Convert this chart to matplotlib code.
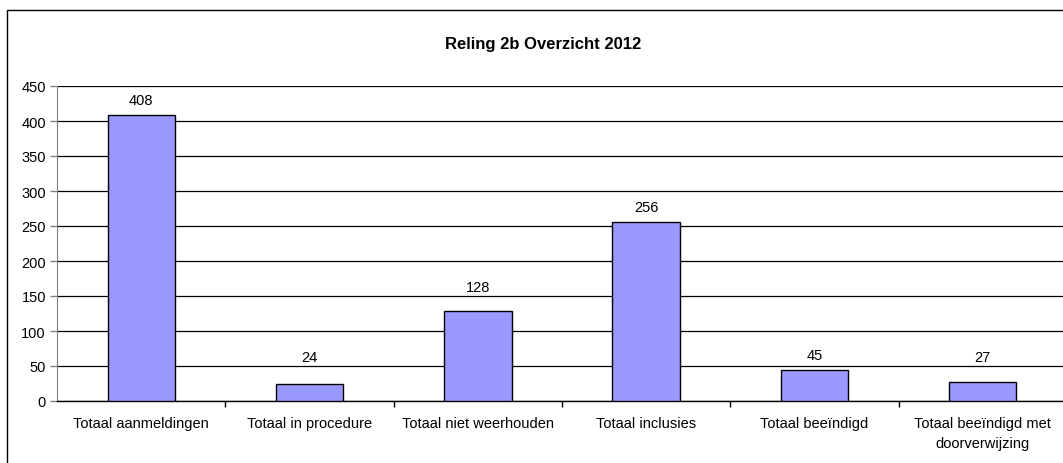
import matplotlib.pyplot as plt
from matplotlib.patches import Rectangle
import numpy as np

plt.rcParams['font.family'] = ['Liberation Sans', 'DejaVu Sans']

categories = ['Totaal aanmeldingen', 'Totaal in procedure', 'Totaal niet weerhouden',
              'Totaal inclusies', 'Totaal beeïndigd', 'Totaal beeïndigd met\ndoorverwijzing']
values = [408, 24, 128, 256, 45, 27]
yticks = [0, 50, 100, 150, 200, 250, 300, 350, 400, 450]

W, H = 1063, 464
fig = plt.figure(figsize=(W / 100, H / 100), dpi=100)

# chart frame (runs off the right and bottom edge)
fig.patches.append(Rectangle((7 / W, -0.05), 1.1, 1 - 11 / H + 0.05, transform=fig.transFigure,
                             fill=False, edgecolor='black', linewidth=1.0))

ax = fig.add_axes([57 / W, 62 / H, 1010 / W, 315 / H])
x = np.arange(len(categories))
ax.bar(x, values, width=0.4, color='#9999FF', edgecolor='black', linewidth=1.0, zorder=3)

# value labels sit above the bar, bumped over a gridline when they would touch it
for xi, v in zip(x, values):
    y = v + 21.4
    for g in yticks:
        if abs(y - g) < 9:
            y = g + 12.9
    ax.text(xi, y, str(v), ha='center', va='center', fontsize=10.5)

ax.set_xlim(-0.5, len(categories) - 0.5)
ax.set_ylim(0, 450)
ax.set_yticks(yticks)
ax.set_xticks(x)
ax.set_xticklabels(categories, fontsize=10.5, linespacing=1.55)
ax.set_xticks(np.arange(len(categories)) + 0.5, minor=True)
ax.tick_params(axis='x', which='major', length=0, pad=11)
ax.tick_params(axis='x', which='minor', length=4, width=1, color='black', direction='out')
ax.tick_params(axis='y', labelsize=10.5, length=5, width=1, color='#808080', pad=3)
ax.yaxis.grid(True, color='black', linewidth=0.9, zorder=0)

for s in ['top', 'right']:
    ax.spines[s].set_visible(False)
ax.spines['left'].set_color('#808080')
ax.spines['bottom'].set_color('black')
ax.spines['bottom'].set_linewidth(1.0)

fig.text(543 / W, 1 - 44 / H, 'Reling 2b Overzicht 2012', ha='center', va='center',
         fontsize=12, fontweight='bold')

fig.savefig('out.png', dpi=100)
